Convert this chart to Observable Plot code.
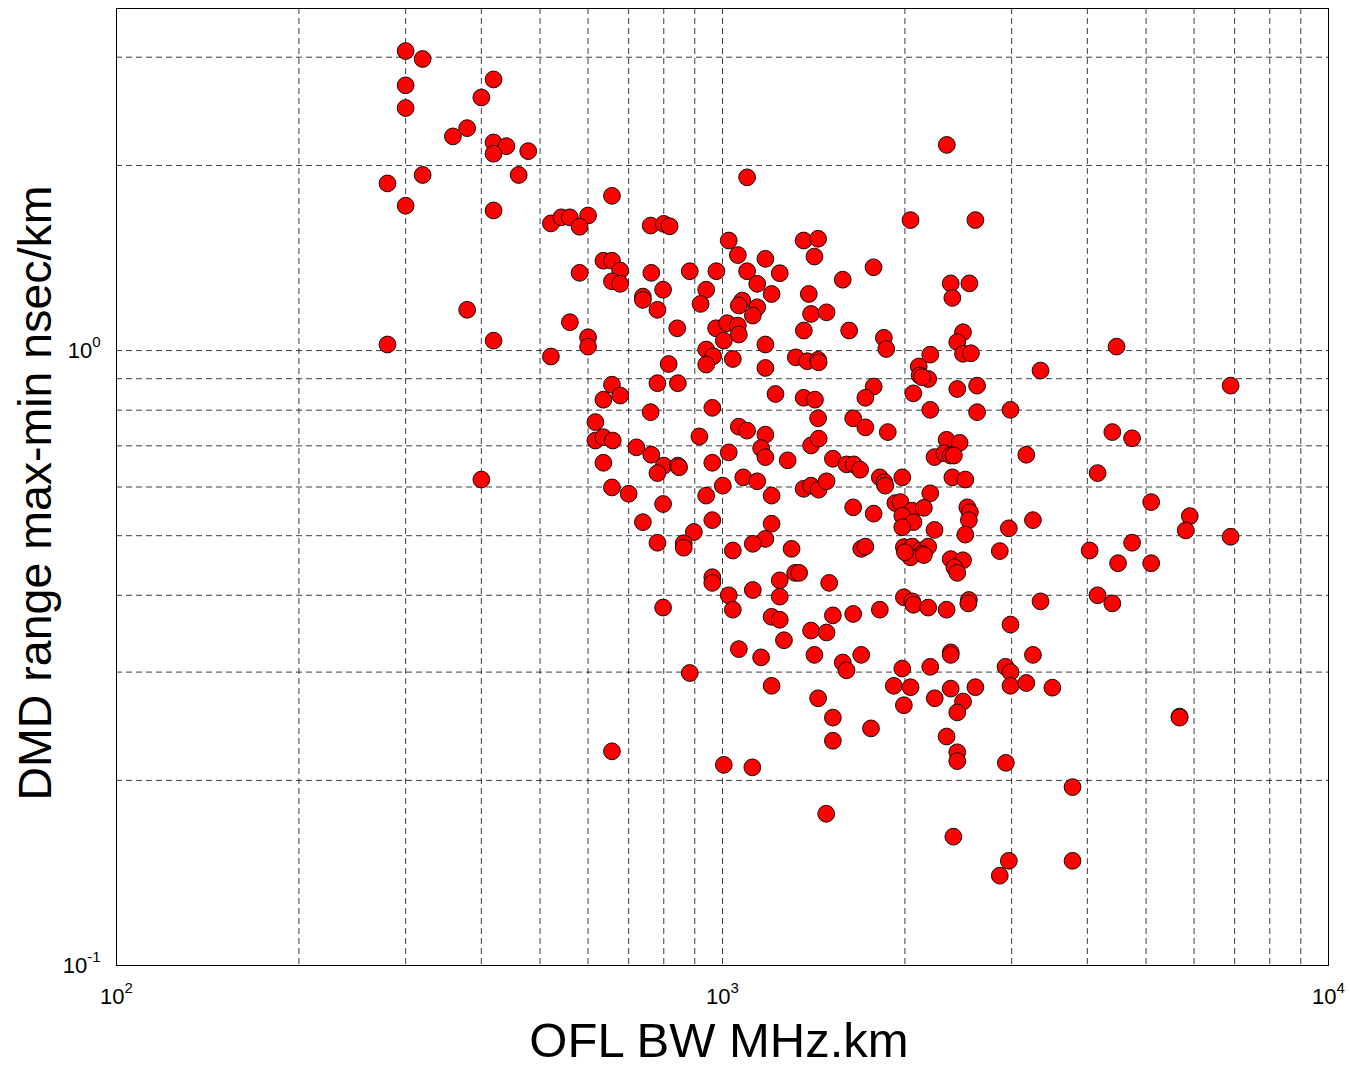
<!DOCTYPE html>
<html>
<head>
<meta charset="utf-8">
<script src="https://cdn.jsdelivr.net/npm/d3@7"></script>
<script src="https://cdn.jsdelivr.net/npm/@observablehq/plot@0.6"></script>
<style>
  html, body { margin: 0; padding: 0; background: #fff; }
  #chart { width: 1350px; height: 1068px; }
</style>
</head>
<body>
<div id="chart"></div>
<script>
// ---- Data: OFL bandwidth (MHz.km) and DMD range (ns/km) ----
const oflA = [300,320,300,300,419,400,379,359,419,440,419,478,280,320,461,300,419,521,379,280,419,521];
const dmdA = [3.07,2.98,2.70,2.48,2.76,2.58,2.30,2.23,2.18,2.15,2.09,2.11,1.87,1.93,1.93,1.72,1.69,1.61,1.165,1.023,1.038,0.978];

const oflB = [657,542,560,600,581,761,800,818,636,657,678,657,678,581,763,883,977,798,739,739,781,940,920,1024,1060,560,600,600,842,815,940,965,940,976,1040];
const dmdB = [1.785,1.647,1.647,1.658,1.59,1.597,1.607,1.593,1.40,1.40,1.349,1.296,1.284,1.338,1.338,1.346,1.346,1.256,1.224,1.209,1.165,1.256,1.191,1.51,1.43,1.112,1.051,1.015,1.087,0.951,1.004,0.979,0.949,1.087,0.969];

const oflC = [1098,1177,1098,1243,1141,1205,1078,1064,1141,1122,1018,1060,1064,1005,1177,1177,1361,1438,1418,1579,1775,1388,1400,1485,1362,1618,1846,1863,1321,1380,1438,1441];
const dmdC = [1.913,1.41,1.346,1.336,1.284,1.236,1.206,1.184,1.176,1.14,1.108,1.098,1.062,1.038,1.023,0.937,1.51,1.52,1.422,1.304,1.366,1.236,1.147,1.154,1.078,1.078,1.049,1.006,0.975,0.961,0.966,0.957];

const oflD = [1223,1361,1421,1776,1721,1438,1643,1721,1874,1064,1098,1177,1024,1158,1177,1281,1400,1441,1521,1602,1647,1687,1818,1850,1856,1082,1141,1205,1361,1400,1441,1485,1643,1776,1205,1177,1122,1040,1300,1694,1721,1318,1338,1243,1500,1122,1024,1243,1040,1205,1243,1521,1643,1818];
const dmdD = [0.850,0.838,0.832,0.874,0.838,0.776,0.776,0.750,0.737,0.752,0.741,0.730,0.683,0.694,0.671,0.663,0.701,0.719,0.667,0.653,0.653,0.640,0.622,0.611,0.603,0.622,0.613,0.581,0.596,0.603,0.594,0.613,0.556,0.543,0.523,0.494,0.485,0.473,0.476,0.476,0.480,0.435,0.435,0.423,0.419,0.408,0.400,0.398,0.379,0.369,0.365,0.371,0.373,0.379];

const oflE = [1400,1485,1263,1064,1158,1418,1579,1602,1694,1205,1438,1521,1758,1521,1005,1120,1483];
const dmdE = [0.3505,0.348,0.338,0.327,0.317,0.320,0.311,0.302,0.320,0.285,0.272,0.253,0.243,0.232,0.212,0.210,0.1765];

const oflF = [400,657,678,636,781,844,761,962,617,617,636,659,721,763,800,844,848,781,636,916,962,1001,940,657,700,798,962,739,897,781,863,863,962,962,798,883,657];
const dmdF = [0.617,0.880,0.845,0.832,0.885,0.885,0.794,0.807,0.765,0.714,0.723,0.714,0.696,0.677,0.650,0.650,0.646,0.632,0.657,0.725,0.657,0.603,0.581,0.599,0.585,0.563,0.530,0.526,0.507,0.487,0.486,0.478,0.428,0.419,0.382,0.299,0.223];

const oflG = [2345,2043,2614,2380,2395,2555,2494,2440,2494,2570,2202,3348,2108,2115,2185,2135,2065,2440,2631,2202,2631,2987,
  2343,2462,2238,2323,2379,2409,3172,2395,2516,1980,2202,1929,1967,2056,2149,1980,2066,1980,2238,2535,2560,2550,2516,2968,3253,2868,1992,2056,2122,2185,2135,2043,2000,2149,2380,2494,2414,2440,1992,2056,2066,2185,2343,2550,2545,3348];
const dmdG = [2.16,1.63,1.63,1.286,1.218,1.286,1.071,1.032,0.988,0.990,0.985,0.928,0.942,0.911,0.899,0.905,0.852,0.866,0.877,0.801,0.794,0.801,
  0.716,0.708,0.671,0.681,0.675,0.675,0.677,0.622,0.617,0.622,0.586,0.565,0.567,0.549,0.555,0.539,0.526,0.516,0.511,0.556,0.546,0.530,0.502,0.514,0.530,0.472,0.479,0.480,0.473,0.480,0.467,0.461,0.470,0.465,0.458,0.456,0.444,0.435,0.397,0.391,0.386,0.382,0.379,0.393,0.388,0.391];

const oflH = [2987,2380,2380,3253,1980,2202,2931,2987,1917,2043,2380,2614,2987,3172,3502,2240,2494,2440,1992,2343,2440,2440,2935,2404,2968,2868];
const dmdH = [0.3585,0.323,0.320,0.320,0.304,0.306,0.306,0.300,0.285,0.2835,0.282,0.2835,0.285,0.288,0.283,0.272,0.2687,0.258,0.265,0.2357,0.2222,0.215,0.2136,0.162,0.148,0.140];

const oflI = [4470,6894,4398,4741,4159,5098,5903,5813,6894,4035,4741,4495,5098,4159,4398,5678,5678,3781,3781];
const dmdI = [1.015,0.877,0.737,0.720,0.632,0.567,0.538,0.510,0.498,0.473,0.487,0.451,0.451,0.400,0.388,0.254,0.253,0.195,0.148];

// ---- Axes / grid ----
const xMajorTicks = [100, 1000, 10000];
const yMajorTicks = [0.1, 1];
const xGridLines = [200,300,400,500,600,700,800,900,1000,2000,3000,4000,5000,6000,7000,8000,9000];
const yGridLines = [0.2,0.3,0.4,0.5,0.6,0.7,0.8,0.9,1,2,3];
const xDomain = [100, 10000];
const yDomain = [0.1, 3.6];
const xLabel = "OFL BW MHz.km";
const yLabel = "DMD range max-min nsec/km";

const ofl = [].concat(oflA, oflB, oflC, oflD, oflE, oflF, oflG, oflH, oflI);
const dmd = [].concat(dmdA, dmdB, dmdC, dmdD, dmdE, dmdF, dmdG, dmdH, dmdI);
const points = ofl.map((x, i) => ({ofl: x, dmd: dmd[i]}));

const FONT = "'Liberation Sans', Arial, Helvetica, sans-serif";
const grid = {stroke: "#000", strokeWidth: 0.9, strokeDasharray: "6,4", strokeOpacity: 0.85};

const svg = Plot.plot({
  width: 1350,
  height: 1068,
  marginLeft: 116,
  marginRight: 22,
  marginTop: 8,
  marginBottom: 103,
  style: {fontFamily: FONT, background: "#fff", color: "#000"},
  x: {type: "log", domain: xDomain},
  y: {type: "log", domain: yDomain},
  marks: [
    Plot.ruleX(xGridLines, grid),
    Plot.ruleY(yGridLines, grid),
    Plot.dot(points, {x: "ofl", y: "dmd", r: 8.4, fill: "#ff0000", stroke: "#000", strokeWidth: 0.9}),
    Plot.frame({stroke: "#000", strokeWidth: 1}),
    Plot.axisX(xMajorTicks, {tickSize: 0, tickPadding: 23, fontSize: 22,
      tickFormat: d => String(Math.round(Math.log10(d))), label: null}),
    Plot.axisY(yMajorTicks, {tickSize: 0, tickPadding: 16, fontSize: 22,
      tickFormat: d => String(Math.round(Math.log10(d))), label: null})
  ]
});

// superscript exponents: 10^n
d3.select(svg)
  .selectAll('g[aria-label="x-axis tick label"] text, g[aria-label="y-axis tick label"] text')
  .each(function () {
    const t = d3.select(this);
    const e = t.text();
    t.text(null);
    t.append("tspan").text("10");
    t.append("tspan").attr("font-size", 15).attr("dy", -11).text(e);
  });

// axis titles
const s = d3.select(svg);
s.append("text")
  .attr("x", 719).attr("y", 1057)
  .attr("text-anchor", "middle")
  .attr("font-family", FONT).attr("font-size", 49).attr("fill", "#000")
  .text(xLabel);
s.append("text")
  .attr("transform", "translate(51,493) rotate(-90)")
  .attr("text-anchor", "middle")
  .attr("font-family", FONT).attr("font-size", 46.5).attr("fill", "#000")
  .text(yLabel);

document.getElementById("chart").appendChild(svg);
</script>
</body>
</html>
